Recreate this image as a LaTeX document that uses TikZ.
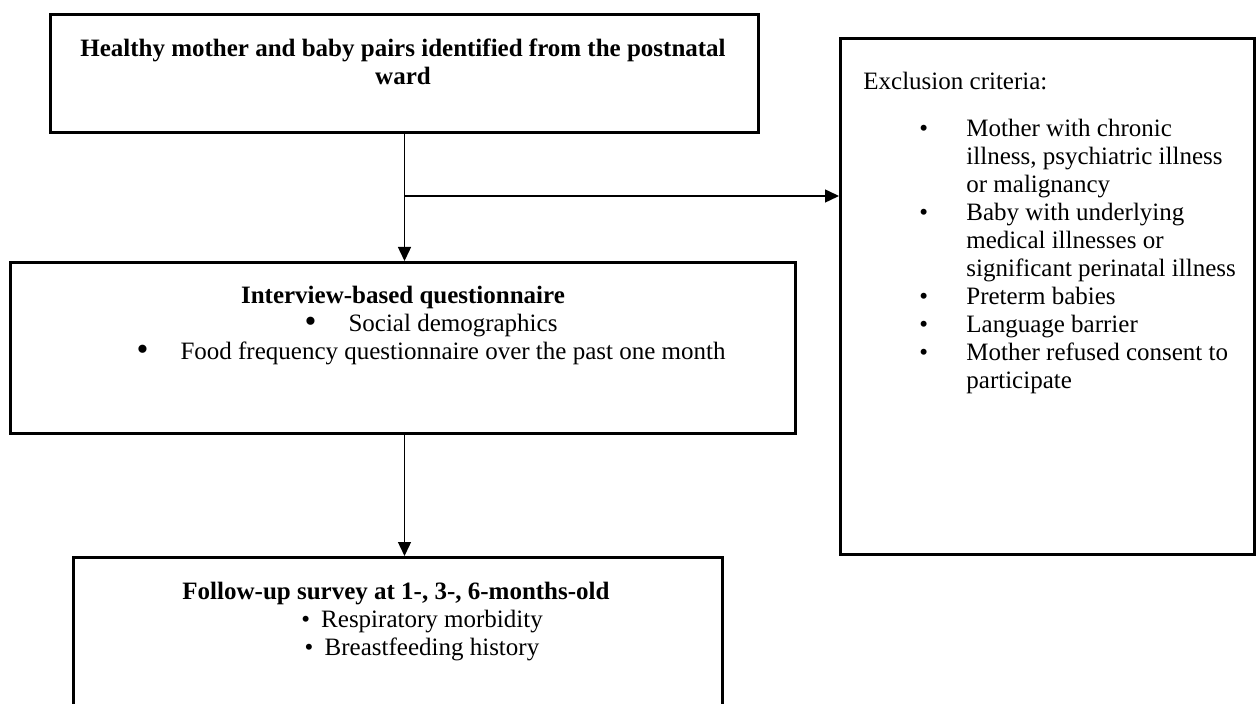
\documentclass[tikz,border=0pt]{standalone}
\usepackage{fontspec}
\setmainfont{Liberation Serif}
\usetikzlibrary{arrows.meta}

\tikzset{
	stagebox/.style={draw, line width=1.5pt, inner sep=0pt, anchor=north west},
	boxtext/.style={inner sep=0pt, font=\fontsize{12.5pt}{14pt}\selectfont},
	flow/.style={line width=0.7pt, -{Triangle[length=7pt,width=6.5pt]}},
}
\newcommand{\critem}{\hspace*{28pt}\makebox[23.5pt][l]{\textbullet}}
\newcommand{\critcont}{\hspace*{51.5pt}}
\newcommand{\bigdot}{\makebox[22pt][l]{\raisebox{-0.4pt}{\fontsize{17pt}{14pt}\selectfont\textbullet}}}

\begin{document}
\begin{tikzpicture}[x=0.5pt,y=-0.5pt]
	\useasboundingbox (0,0) rectangle (1256,704);

	\node[stagebox, minimum width=354pt, minimum height=59pt] (ward) at (49,13) {};
	\node[stagebox, minimum width=392.5pt, minimum height=85.5pt] (intro) at (9,261) {};
	\node[stagebox, minimum width=207pt, minimum height=258pt] (excl) at (839,37) {};
	\node[stagebox, minimum width=324.5pt, minimum height=100pt] (follow) at (72,556) {};

	\node[boxtext, anchor=north, align=center] (wardtext) at (403,39)
		{\textbf{Healthy mother and baby pairs identified from the postnatal}\\\textbf{ward}};
	\node[boxtext, anchor=north, align=center] (introtext) at (403,286)
		{\textbf{Interview-based questionnaire}\\
		\hspace*{28pt}\bigdot Social demographics\\
		\hspace*{28pt}\bigdot Food frequency questionnaire over the past one month};
	\node[boxtext, anchor=north west, align=left] (excltext) at (863,72)
		{Exclusion criteria:\\[9.5pt]
		\critem Mother with chronic\\
		\critcont illness, psychiatric illness\\
		\critcont or malignancy\\
		\critem Baby with underlying\\
		\critcont medical illnesses or\\
		\critcont significant perinatal illness\\
		\critem Preterm babies\\
		\critem Language barrier\\
		\critem Mother refused consent to\\
		\critcont participate};
	\node[boxtext, anchor=north, align=center] (followtext) at (396,582)
		{\textbf{Follow-up survey at 1-, 3-, 6-months-old}\\
		\hspace*{26pt}\makebox[10pt][l]{\textbullet}Respiratory morbidity\\
		\hspace*{26pt}\makebox[10pt][l]{\textbullet}Breastfeeding history};

	\coordinate (split) at (ward.south |- 0,196);
	\draw[flow] (ward.south) -- (ward.south |- intro.north);
	\draw[flow] (split) -- (split -| excl.west);
	\draw[flow] (ward.south |- intro.south) -- (ward.south |- follow.north);
\end{tikzpicture}
\end{document}
